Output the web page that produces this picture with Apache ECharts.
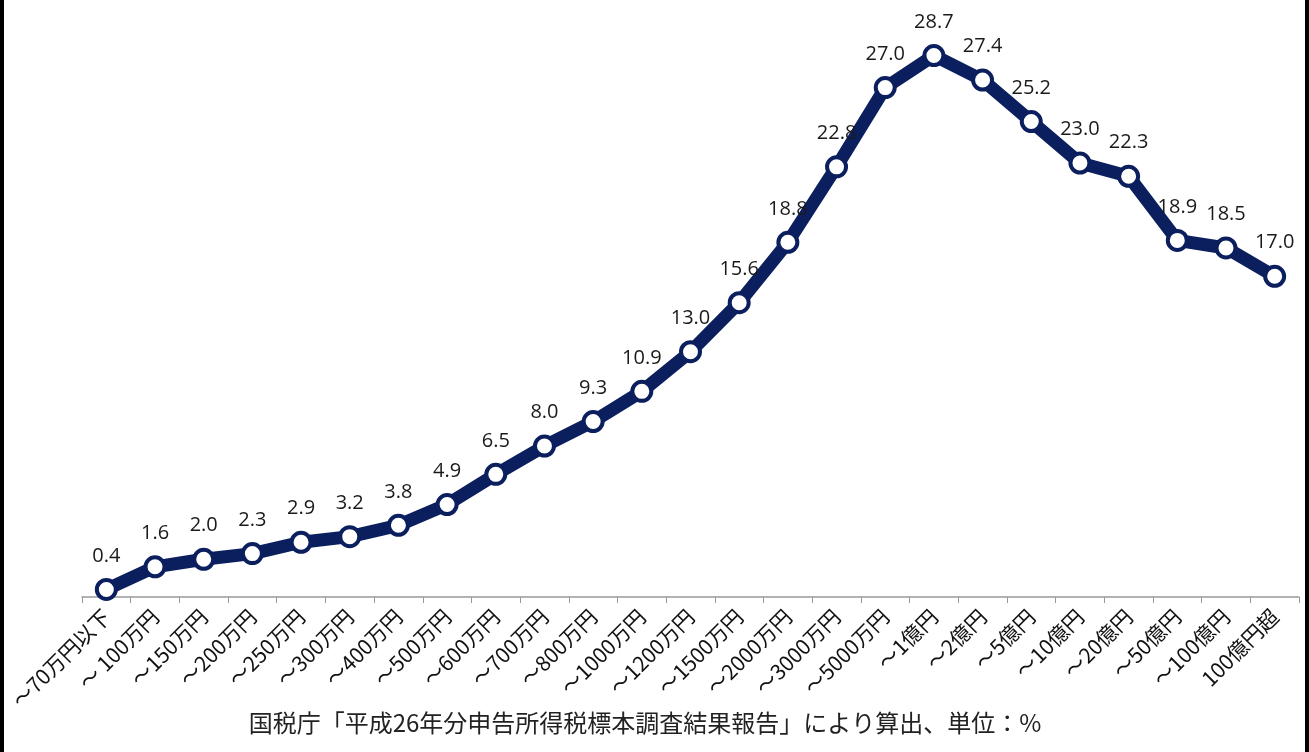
<!DOCTYPE html>
<html>
<head>
<meta charset="utf-8">
<script src="https://cdn.jsdelivr.net/npm/echarts@6/dist/echarts.min.js"></script>
<style>
  html, body { margin: 0; padding: 0; background: #fff; }
  #chart { width: 1309px; height: 752px; }
</style>
</head>
<body>
<div id="chart"></div>
<script>
// 所得階級
var categories = ['～70万円以下', '～ 100万円', '～150万円', '～200万円', '～250万円', '～300万円',
    '～400万円', '～500万円', '～600万円', '～700万円', '～800万円', '～1000万円', '～1200万円',
    '～1500万円', '～2000万円', '～3000万円', '～5000万円', '～1億円', '～2億円', '～5億円',
    '～10億円', '～20億円', '～50億円', '～100億円', '100億円超'];
// 単位：%
var rates = [0.4, 1.6, 2.0, 2.3, 2.9, 3.2, 3.8, 4.9, 6.5, 8.0, 9.3, 10.9, 13.0, 15.6, 18.8,
    22.8, 27.0, 28.7, 27.4, 25.2, 23.0, 22.3, 18.9, 18.5, 17.0];
var footnote = '国税庁「平成26年分申告所得税標本調査結果報告」により算出、単位：%';

var myChart = echarts.init(document.getElementById('chart'));
var option = {
    animation: false,
    backgroundColor: '#fff',
    title: {
        text: footnote,
        left: 640,
        textAlign: 'center',
        top: 706,
        textStyle: {
            fontFamily: 'Noto Sans CJK JP',
            fontSize: 24,
            fontWeight: 'normal',
            color: '#222'
        }
    },
    grid: {
        left: 82,
        right: 10,
        top: 31,
        bottom: 155
    },
    xAxis: {
        type: 'category',
        data: categories,
        boundaryGap: true,
        axisLine: { lineStyle: { color: '#999', width: 1.5 } },
        axisTick: { show: true, length: 6, lineStyle: { color: '#999' } },
        axisLabel: {
            rotate: 45,
            interval: 0,
            margin: 16,
            fontFamily: 'Noto Sans CJK JP',
            fontSize: 21,
            color: '#111'
        }
    },
    yAxis: {
        type: 'value',
        min: 0,
        max: 30,
        show: false,
        splitLine: { show: false }
    },
    series: [
        {
            type: 'line',
            data: rates,
            symbol: 'circle',
            symbolSize: 19,
            lineStyle: { color: '#0b1f5e', width: 13 },
            itemStyle: { color: '#fff', borderColor: '#0b1f5e', borderWidth: 4 },
            label: {
                show: true,
                position: 'top',
                distance: 12,
                formatter: function (p) { return p.value.toFixed(1); },
                fontFamily: 'Open Sans',
                fontSize: 20,
                color: '#1a1a1a'
            }
        }
    ],
    graphic: [
        { type: 'rect', left: 0, top: 0, shape: { width: 4, height: 752 }, style: { fill: '#000' } },
        { type: 'rect', right: 0, top: 0, shape: { width: 4, height: 752 }, style: { fill: '#000' } }
    ]
};
myChart.setOption(option);
</script>
</body>
</html>
